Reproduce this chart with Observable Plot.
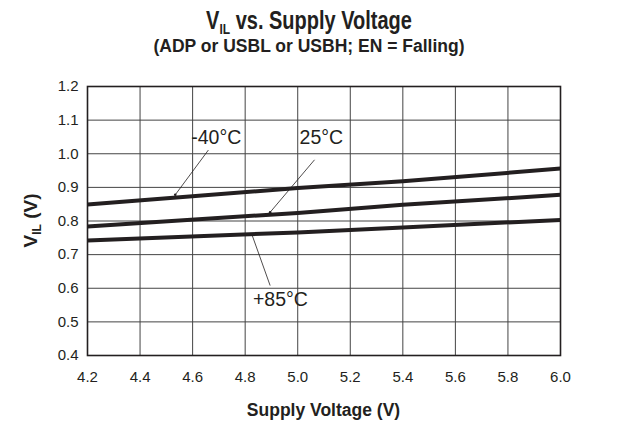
<!DOCTYPE html>
<html>
<head>
<meta charset="utf-8">
<script src="https://cdn.jsdelivr.net/npm/d3@7"></script>
<script src="https://cdn.jsdelivr.net/npm/@observablehq/plot@0.6"></script>
<style>
  html, body { margin: 0; padding: 0; background: #fff; }
  #chart svg { display: block; }
</style>
</head>
<body>
<div id="chart"></div>
<script>
// ---- data ----
const voltage = [4.2, 5.0, 5.4, 6.0];
const vilM40 = [0.849, 0.898, 0.918, 0.956];
const vil25  = [0.784, 0.824, 0.848, 0.878];
const vil85  = [0.742, 0.766, 0.781, 0.803];

const xTicks = [4.2, 4.4, 4.6, 4.8, 5.0, 5.2, 5.4, 5.6, 5.8, 6.0];
const yTicks = [0.4, 0.5, 0.6, 0.7, 0.8, 0.9, 1.0, 1.1, 1.2];

const labelText = ["-40°C", "25°C", "+85°C"];
const labelX = [4.690, 5.090, 4.934];
const labelY = [1.048, 1.048, 0.565];
const leaderX1 = [4.660, 5.064, 4.895];
const leaderY1 = [1.011, 0.982, 0.608];
const leaderX2 = [4.534, 4.895, 4.826];
const leaderY2 = [0.878, 0.826, 0.759];

const titleMain = "V";
const titleSub = "IL";
const titleRest = " vs. Supply Voltage";
const subtitle = "(ADP or USBL or USBH; EN = Falling)";
const xLabel = "Supply Voltage (V)";

// ---- tables built from the arrays ----
const series = [
  ...voltage.map((v, i) => ({ v, y: vilM40[i], s: "-40" })),
  ...voltage.map((v, i) => ({ v, y: vil25[i], s: "25" })),
  ...voltage.map((v, i) => ({ v, y: vil85[i], s: "85" }))
];
const labels = labelText.map((t, i) => ({ t, x: labelX[i], y: labelY[i] }));
const leaders = labelText.map((t, i) => ({
  x1: leaderX1[i], y1: leaderY1[i], x2: leaderX2[i], y2: leaderY2[i]
}));

const ink = "#231f20";
const font = "'Liberation Sans', Arial, Helvetica, sans-serif";
const W = 621, H = 432;
const mL = 87, mR = 61, mT = 86, mB = 77;

const chart = Plot.plot({
  width: W,
  height: H,
  marginLeft: mL,
  marginRight: mR,
  marginTop: mT,
  marginBottom: mB,
  style: { fontFamily: font, color: ink, background: "#fff", overflow: "visible" },
  x: { domain: [4.2, 6.0], label: null },
  y: { domain: [0.4, 1.2], label: null },
  marks: [
    Plot.gridX(xTicks, { stroke: "#444", strokeOpacity: 1, strokeWidth: 1 }),
    Plot.gridY(yTicks, { stroke: "#444", strokeOpacity: 1, strokeWidth: 1 }),
    Plot.axisX(xTicks, { tickSize: 0, tickPadding: 16, fontSize: 15, tickFormat: d3.format(".1f"), label: null, fill: ink }),
    Plot.axisY(yTicks, { tickSize: 0, tickPadding: 9, fontSize: 15, tickFormat: d3.format(".1f"), label: null, fill: ink }),
    Plot.line(series, { x: "v", y: "y", z: "s", stroke: ink, strokeWidth: 4, strokeLinecap: "butt" }),
    Plot.link(leaders, { x1: "x1", y1: "y1", x2: "x2", y2: "y2", stroke: ink, strokeWidth: 0.8 }),
    Plot.dot(leaders, { x: "x2", y: "y2", r: 1.3, fill: ink }),
    Plot.text(labels, { x: "x", y: "y", text: "t", fontSize: 19.5, fill: ink }),
    Plot.frame({ stroke: ink, strokeWidth: 1.6 })
  ]
});

document.getElementById("chart").appendChild(chart);

const svg = d3.select(chart);
const cx = 309;

// title with subscript (narrow, tall bold face as in the reference)
const t = svg.append("text")
  .attr("transform", `translate(${cx}, 29) scale(0.8, 1)`)
  .attr("text-anchor", "middle")
  .attr("font-family", font)
  .attr("font-weight", "bold")
  .attr("font-size", 25)
  .attr("fill", ink);
t.append("tspan").text(titleMain);
t.append("tspan").attr("font-size", 15).attr("dy", 5).text(titleSub);
t.append("tspan").attr("dy", -5).text(titleRest);

svg.append("text")
  .attr("x", cx).attr("y", 52)
  .attr("text-anchor", "middle")
  .attr("font-family", font)
  .attr("font-weight", "bold")
  .attr("font-size", 17.5)
  .attr("fill", ink)
  .text(subtitle);

// x axis label
svg.append("text")
  .attr("x", (mL + (W - mR)) / 2).attr("y", 416)
  .attr("text-anchor", "middle")
  .attr("font-family", font)
  .attr("font-weight", "bold")
  .attr("font-size", 17.5)
  .attr("fill", ink)
  .text(xLabel);

// y axis label (rotated) with subscript
const yl = svg.append("text")
  .attr("transform", `translate(37, ${(mT + (H - mB)) / 2}) rotate(-90)`)
  .attr("text-anchor", "middle")
  .attr("font-family", font)
  .attr("font-weight", "bold")
  .attr("font-size", 19)
  .attr("fill", ink);
yl.append("tspan").text("V");
yl.append("tspan").attr("font-size", 12).attr("dy", 4).text("IL");
yl.append("tspan").attr("dy", -4).text(" (V)");
</script>
</body>
</html>
